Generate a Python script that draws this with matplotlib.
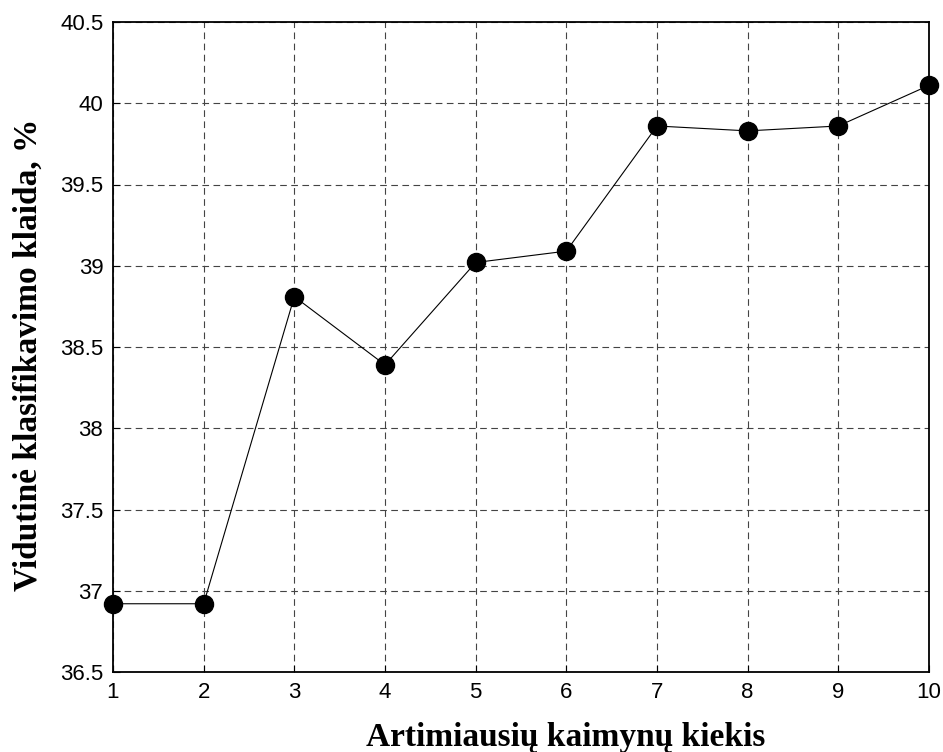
import numpy as np
import matplotlib.pyplot as plt

# Duomenys
K = [1, 2, 3, 4, 5, 6, 7, 8, 9, 10]
KLAIDA = [36.92, 36.92, 38.81, 38.39, 39.02, 39.09, 39.86, 39.83, 39.86, 40.11]
YTICKS = [36.5, 37, 37.5, 38, 38.5, 39, 39.5, 40, 40.5]
YLABELS = ["36.5", "37", "37.5", "38", "38.5", "39", "39.5", "40", "40.5"]

fig = plt.figure(figsize=(9.43, 7.52), dpi=100)
ax = fig.add_axes([113/943, 1 - 672/752, (929 - 113)/943, (672 - 22)/752])

ax.plot(K, KLAIDA, color="black", linewidth=0.8, marker="o",
        markersize=13, markerfacecolor="black", markeredgecolor="black",
        clip_on=False, zorder=3)

ax.set_xlim(1, 10)
ax.set_ylim(36.5, 40.5)
ax.set_xticks(K)
ax.set_yticks(YTICKS)
ax.set_yticklabels(YLABELS)
ax.grid(True, color="#444444", linestyle=(0, (6, 4)), linewidth=0.8)
ax.tick_params(direction="in", length=5, labelsize=16, pad=7)
for lab in ax.get_xticklabels() + ax.get_yticklabels():
    lab.set_family("Liberation Sans")
for s in ax.spines.values():
    s.set_linewidth(1.3)

fig.text(566/943, 1 - 746/752, "Artimiausių kaimynų kiekis",
         ha="center", va="baseline", fontsize=24, fontweight="bold",
         family="Liberation Serif")
fig.text(28/943, 1 - 355/752, "Vidutinė klasifikavimo klaida, %",
         ha="center", va="center", rotation=90, fontsize=24,
         fontweight="bold", family="Liberation Serif")

plt.savefig("out.png", dpi=100)
